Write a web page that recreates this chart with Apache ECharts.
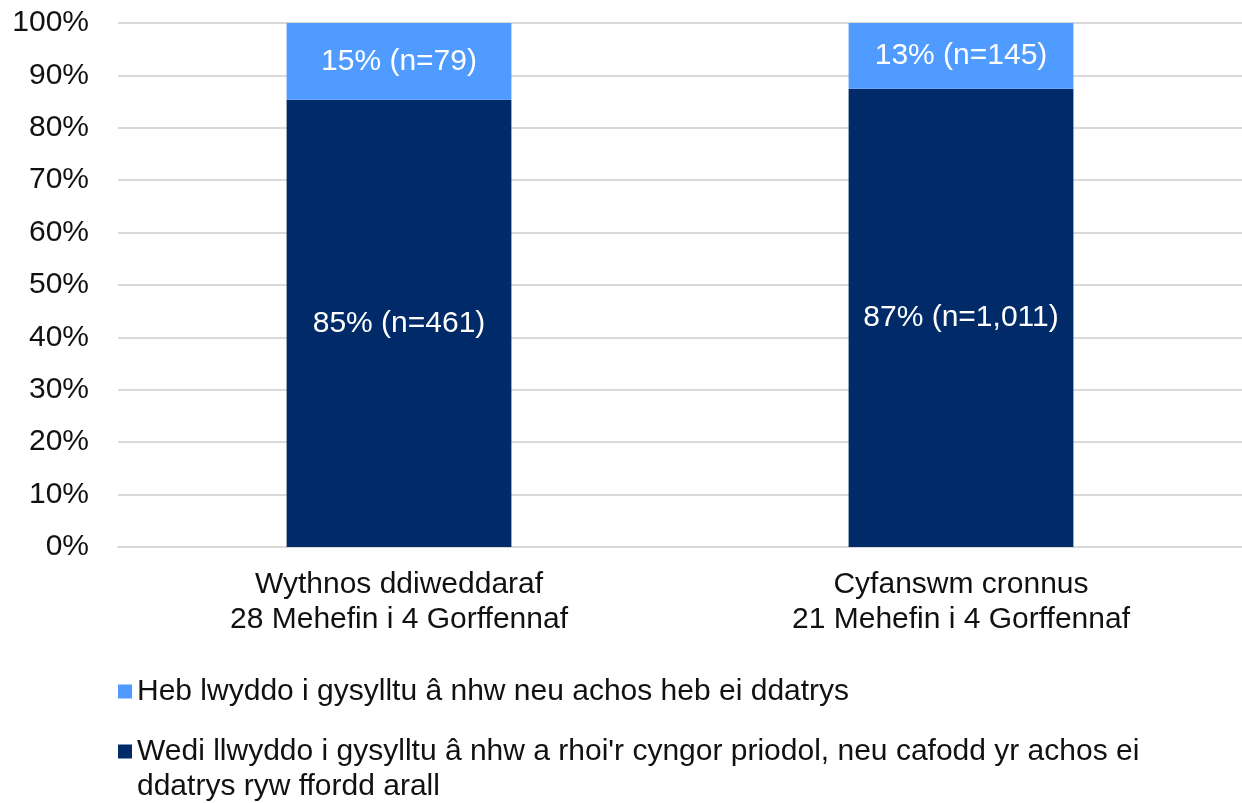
<!DOCTYPE html>
<html>
<head>
<meta charset="utf-8">
<script src="https://cdn.jsdelivr.net/npm/echarts@6/dist/echarts.min.js"></script>
<style>
  html, body { margin: 0; padding: 0; background: #fff; }
  #chart { width: 1242px; height: 803px; }
</style>
</head>
<body>
<div id="chart"></div>
<script>
const categories = [
  'Wythnos ddiweddaraf\n28 Mehefin i 4 Gorffennaf',
  'Cyfanswm cronnus\n21 Mehefin i 4 Gorffennaf'
];
const seriesNames = [
  'Heb lwyddo i gysylltu â nhw neu achos heb ei ddatrys',
  "Wedi llwyddo i gysylltu â nhw a rhoi'r cyngor priodol, neu cafodd yr achos ei ddatrys ryw ffordd arall"
];
// shares (%), plus counts shown in labels
const resolvedPct = [85.37, 87.46];
const resolvedN = ['461', '1,011'];
const unresolvedPct = [14.63, 12.54];
const unresolvedN = ['79', '145'];
const yTicks = [0, 10, 20, 30, 40, 50, 60, 70, 80, 90, 100];

const FONT = '"Liberation Sans", Arial, sans-serif';
const FS = 30;

const chart = echarts.init(document.getElementById('chart'), null, { renderer: 'canvas' });

function lab(nArr) {
  return {
    show: true,
    position: 'inside',
    color: '#ffffff',
    fontFamily: FONT,
    fontSize: FS,
    formatter: p => Math.round(p.value) + '% (n=' + nArr[p.dataIndex] + ')'
  };
}

chart.setOption({
  animation: false,
  backgroundColor: '#ffffff',
  grid: { left: 118, right: -3, top: 23, bottom: 256, containLabel: false },
  xAxis: {
    type: 'category',
    data: categories,
    axisLine: { show: true, lineStyle: { color: '#d9d9d9', width: 2 } },
    axisTick: { show: false },
    axisLabel: {
      color: '#111111', fontFamily: FONT, fontSize: FS, lineHeight: 35,
      margin: 20, interval: 0
    }
  },
  yAxis: {
    type: 'value',
    min: yTicks[0],
    max: yTicks[yTicks.length - 1],
    interval: 10,
    axisLine: { show: false },
    axisTick: { show: false },
    splitLine: { lineStyle: { color: '#d9d9d9', width: 2 } },
    axisLabel: {
      color: '#111111', fontFamily: FONT, fontSize: FS, margin: 29,
      formatter: v => v + '%'
    }
  },
  legend: [
    {
      data: [seriesNames[0]],
      orient: 'vertical',
      left: 113, top: 669,
      itemWidth: 14, itemHeight: 14, icon: 'rect', itemGap: 8,
      textStyle: { color: '#111111', fontFamily: FONT, fontSize: FS, lineHeight: 35 }
    },
    {
      data: [seriesNames[1]],
      orient: 'vertical',
      left: 113, top: 694,
      itemWidth: 14, itemHeight: 14, icon: 'rect', itemGap: 8,
      formatter: name => '\n' + name,
      textStyle: {
        color: '#111111', fontFamily: FONT, fontSize: FS, lineHeight: 35,
        width: 1060, overflow: 'break'
      }
    }
  ],
  series: [
    {
      name: seriesNames[1],
      type: 'bar',
      stack: 'total',
      barWidth: '40%',
      itemStyle: { color: '#002b68' },
      label: lab(resolvedN),
      data: resolvedPct
    },
    {
      name: seriesNames[0],
      type: 'bar',
      stack: 'total',
      barWidth: '40%',
      itemStyle: { color: '#4f9bff' },
      label: lab(unresolvedN),
      data: unresolvedPct
    }
  ]
});
</script>
</body>
</html>
